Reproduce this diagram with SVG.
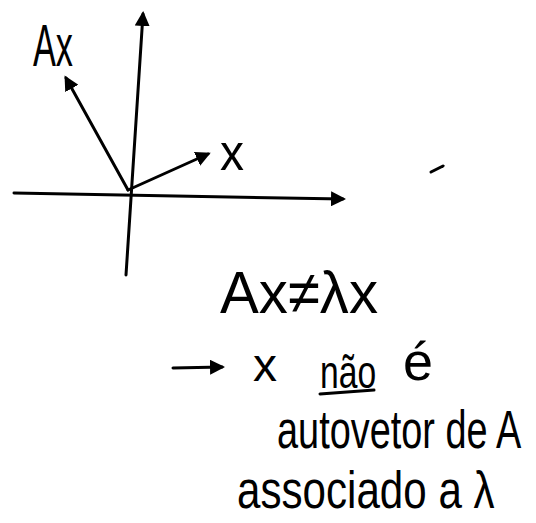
<svg xmlns="http://www.w3.org/2000/svg" width="536" height="523" viewBox="0 0 536 523">
<style>
.ln{stroke:#000;stroke-width:3;fill:none;stroke-linecap:round}
.t{font-family:"Liberation Sans","DejaVu Sans",sans-serif;fill:#000}
</style>
<defs>
<marker id="ah" viewBox="0 0 10 10" refX="8" refY="5" markerWidth="5" markerHeight="5" orient="auto" markerUnits="strokeWidth">
<path d="M0,0 L10,5 L0,10 Z" fill="#000"/>
</marker>
</defs>
<rect width="536" height="523" fill="#fff"/>
<g id="connectors">
<path id="y-axis" class="ln" d="M126,275 L143,14" marker-end="url(#ah)"/>
<path id="x-axis" class="ln" d="M14,193 L343,199" marker-end="url(#ah)"/>
<path id="vec-Ax" class="ln" d="M128,190 L66,78" marker-end="url(#ah)"/>
<path id="vec-x" class="ln" d="M128,190 L208,154" marker-end="url(#ah)"/>
<path id="implies" class="ln" d="M173,368 L222,367" marker-end="url(#ah)"/>
<path id="underline" class="ln" d="M320,394 L374,390"/>
<path id="stray" class="ln" stroke-width="2.5" d="M431,172 L443,166"/>
</g>
<g id="label-Ax"><text class="t" transform="translate(33,66) scale(0.58,1)" font-size="60" textLength="69" lengthAdjust="spacingAndGlyphs">Ax</text></g>
<g id="label-x"><text class="t" x="220" y="170" font-size="52" textLength="24" lengthAdjust="spacingAndGlyphs">x</text></g>
<g id="equation"><text class="t" x="220" y="313" font-size="60" textLength="158" lengthAdjust="spacingAndGlyphs">Ax≠λx</text></g>
<g id="line2">
<text class="t" x="253" y="381" font-size="46" textLength="24" lengthAdjust="spacingAndGlyphs">x</text>
<text class="t" transform="translate(320,388) scale(0.85,1)" font-size="46" textLength="66" lengthAdjust="spacingAndGlyphs">não</text>
<text class="t" x="403" y="380" font-size="54" textLength="30" lengthAdjust="spacingAndGlyphs">é</text>
</g>
<g id="line3"><text class="t" transform="translate(277,448) scale(0.7,1)" font-size="54" textLength="349" lengthAdjust="spacingAndGlyphs">autovetor de A</text></g>
<g id="line4"><text class="t" transform="translate(237,508) scale(0.8,1)" font-size="52" textLength="322" lengthAdjust="spacingAndGlyphs">associado a λ</text></g>
</svg>
